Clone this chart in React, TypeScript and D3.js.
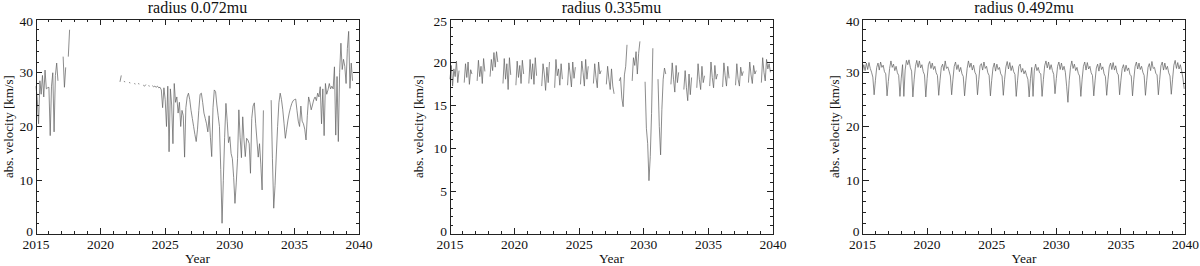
import React from 'react'
import * as d3 from 'd3'

// sampling grid of the time series (years), one sample every 0.1 year
const startYear = 2015
const endYear = 2040
const sampleYears = d3.range(250).map(i => startYear + i / 10)

const xTickYears = [2015, 2020, 2025, 2030, 2035, 2040]
const titles = ['radius 0.072mu', 'radius 0.335mu', 'radius 0.492mu']
const yMaxes = [40, 25, 40]
const yMajorSteps = [10, 5, 10]

// abs. velocity [km/s], radius 0.072mu (null = no data)
const velocityInner: (number | null)[] = [
  27.5, 25.0, 20.5, 28.5, 26.0, 29.5, 25.5, 30.5, 27.0, 27.2,
  27.3, 18.3, 27.5, 30.0, 19.0, 29.5, 31.8, 28.5, null, null,
  null, 33.0, 27.3, 31.0, null, 33.0, 38.0, null, null, null,
  null, null, null, null, null, null, null, null, null, null,
  null, null, null, null, null, null, null, null, null, null,
  null, null, null, null, null, null, null, null, null, null,
  null, null, null, null, null, 28.3, 29.5, null, 28.4, 28.3,
  null, null, 28.2, 28.1, null, null, 28.0, 27.9, null, 28.0,
  27.9, null, null, 27.7, 27.5, 27.8, null, 27.6, 27.5, null,
  27.6, 27.4, 27.5, 27.3, 27.5, 27.2, 27.3, 26.8, 23.5, 27.2,
  25.0, 20.0, 27.5, 15.3, 27.0, 24.0, 16.8, 28.0, 24.5, 25.5,
  22.5, 24.5, 20.0, 23.0, 22.0, 14.3, 23.5, 25.5, 26.2, 25.0,
  23.0, 21.5, 20.0, 18.5, 17.2, 19.5, 23.0, 26.0, 26.2, 24.5,
  22.5, 21.5, 20.5, 19.0, 22.0, 18.0, 14.4, 23.5, 26.8, 26.5,
  24.0, 22.0, 20.0, 12.0, 2.0, 10.0, 18.0, 24.3, 21.0, 17.0,
  18.1, 15.0, 14.0, 10.5, 5.7, 9.5, 14.0, 23.1, 18.0, 14.2,
  21.8, 17.5, 14.4, 17.8, 17.5, 16.8, 11.3, 21.5, 23.8, 24.4,
  20.6, 17.5, 14.3, 16.8, 13.0, 8.2, 23.0, null, null, null,
  null, null, 24.9, 14.0, 4.8, 9.0, 14.7, 20.0, 24.4, 26.2,
  25.0, 23.1, 20.5, 17.8, 19.5, 21.2, 22.5, 23.5, 24.3, 24.8,
  25.0, 25.1, 23.0, 21.0, 20.0, 23.8, 21.0, 20.5, 19.5, 17.5,
  22.0, 25.5, 24.5, 23.1, 24.0, 25.0, 25.5, 24.8, 26.2, 25.5,
  27.4, 20.5, 27.0, 18.3, 28.0, 26.0, 26.8, 28.0, 27.0, 27.5,
  27.0, 31.1, 18.4, 29.3, 17.2, 30.0, 35.5, 30.6, 32.5, 31.2,
  28.0, 34.5, 37.7, 27.1, 31.8, 28.5, null, null, null, null,
]

// abs. velocity [km/s], radius 0.335mu
const velocityMiddle: (number | null)[] = [
  18.0, 19.6, 17.2, 19.2, 18.3, 20.1, 17.6, 19.0, null, null,
  null, 17.6, 19.8, 18.2, 20.0, 17.4, 19.1, 18.6, null, null,
  null, 17.8, 20.2, 18.3, 19.5, 17.5, 20.4, 18.9, null, null,
  null, 18.3, 20.3, 19.0, 21.1, 19.4, 21.2, 20.0, null, null,
  null, 17.5, 20.4, 18.0, 19.8, 16.8, 20.5, 18.5, null, null,
  null, 17.3, 20.1, 18.2, 19.6, 17.5, 20.2, 18.6, null, null,
  null, 17.5, 20.3, 18.0, 19.8, 17.4, 20.5, 18.4, null, null,
  null, 17.2, 19.8, 18.6, 16.7, 19.4, 17.6, 20.0, null, null,
  null, 17.0, 20.3, 18.4, 19.2, 17.3, 19.8, 18.0, null, null,
  null, 17.3, 19.9, 18.6, 17.1, 20.0, 18.1, 19.4, null, null,
  null, 17.4, 20.1, 18.8, 17.2, 20.3, 18.0, 19.5, null, null,
  null, 17.5, 19.8, 18.2, 17.0, 20.0, 18.6, 19.0, null, null,
  null, 17.4, 19.5, 18.0, 16.8, 19.2, 17.2, 16.3, null, null,
  null, 17.8, 18.2, 15.8, 14.8, 18.5, 19.5, 22.0, null, null,
  null, 17.8, 20.5, 19.6, 21.2, 18.6, 21.0, 22.4, null, null,
  null, 17.7, 12.3, 10.5, 6.2, 9.0, 14.0, 21.6, null, null,
  null, 18.0, 12.5, 9.2, 14.5, 18.0, 19.3, 18.6, null, null,
  null, 17.4, 19.9, 18.0, 16.5, 19.6, 17.6, 18.8, null, null,
  null, 16.8, 19.0, 17.0, 15.5, 18.6, 16.2, 18.2, null, null,
  null, 17.0, 19.8, 18.0, 16.8, 19.5, 17.6, 18.4, null, null,
  null, 17.2, 20.0, 18.2, 17.0, 19.6, 18.0, 18.6, null, null,
  null, 17.1, 19.9, 18.4, 17.2, 19.5, 18.1, null, null, null,
  null, 17.3, 19.8, 18.0, 17.2, 19.4, 18.4, 18.9, null, null,
  null, 17.6, 20.0, 18.5, 17.5, 19.6, 18.6, 19.0, null, null,
  null, 17.6, 20.5, 18.8, 17.8, 20.3, 19.2, 19.8, 18.8, null,
]

// abs. velocity [km/s], radius 0.492mu
const velocityOuter: (number | null)[] = [
  30.2, 31.5, 30.4, 31.8, 30.6, 31.9, 30.8, 30.1, 29.2, 25.9,
  28.6, 31.0, 31.8, 30.5, 32.0, 31.0, 31.4, 30.2, 29.8, 25.7,
  28.4, 30.8, 32.2, 31.0, 31.6, 30.4, 31.2, 30.0, 29.5, 25.6,
  29.0, 31.5, 25.6, 30.5, 32.3, 31.5, 32.4, 31.0, 30.3, 25.5,
  28.8, 31.2, 32.3, 31.0, 32.2, 30.9, 31.5, 30.2, 29.6, 25.5,
  28.9, 31.5, 32.1, 30.8, 31.8, 30.6, 31.2, 30.0, 29.5, 25.8,
  28.6, 31.0, 31.6, 30.4, 32.2, 30.8, 31.1, 30.3, 29.4, 25.9,
  28.8, 31.2, 32.0, 30.6, 31.5, 30.2, 31.0, 29.8, 29.3, 25.7,
  28.5, 30.8, 32.2, 31.0, 31.8, 30.5, 31.4, 30.1, 29.6, 25.9,
  28.7, 31.3, 31.7, 30.5, 32.0, 30.8, 31.2, 30.0, 29.5, 25.7,
  28.6, 30.9, 31.8, 30.3, 31.6, 30.6, 31.0, 29.8, 29.4, 25.8,
  28.8, 31.1, 32.1, 30.7, 31.9, 30.4, 31.3, 30.2, 29.7, 25.6,
  28.5, 31.2, 31.6, 30.1, 30.8, 29.8, 30.4, 29.5, 28.8, 25.5,
  28.9, 31.0, 25.6, 30.5, 31.6, 30.4, 31.0, 30.0, 29.8, 25.6,
  28.7, 31.3, 32.2, 30.9, 32.0, 30.6, 31.5, 30.4, 29.7, 26.1,
  28.9, 31.2, 32.0, 30.6, 31.8, 30.5, 31.2, 30.1, 27.5, 24.5,
  28.6, 31.0, 32.2, 30.8, 31.6, 30.4, 31.0, 29.9, 29.4, 25.6,
  28.8, 31.2, 32.0, 30.5, 31.9, 30.7, 31.2, 30.0, 29.5, 25.7,
  28.5, 30.9, 31.6, 30.3, 31.8, 30.6, 31.1, 29.8, 29.3, 25.8,
  28.7, 31.1, 31.8, 30.6, 31.9, 30.5, 31.3, 30.0, 29.6, 25.9,
  28.6, 30.8, 31.5, 30.2, 31.4, 30.4, 30.9, 29.7, 29.4, 25.7,
  28.8, 31.2, 32.0, 30.7, 31.8, 30.6, 31.2, 30.1, 29.5, 25.8,
  28.6, 31.0, 31.7, 30.4, 32.1, 30.8, 31.0, 29.9, 29.6, 25.9,
  28.7, 31.3, 32.0, 30.5, 31.8, 30.6, 31.2, 30.0, 29.4, 26.0,
  28.8, 31.4, 32.3, 30.8, 31.9, 30.7, 31.5, 30.4, 29.0, 27.0,
]

const seriesList = [velocityInner, velocityMiddle, velocityOuter]

const W = 1200
const H = 266
const FONT = "'Liberation Serif', 'Times New Roman', serif"
const INK = '#222'
const LINE = '#666'

const panelLefts = [36, 450, 862.5]
const labelGaps = [23, 27, 24]
const plotTop = 19
const plotW = 323
const plotH = 215

function Panel({ idx }: { idx: number }) {
  const left = panelLefts[idx]
  const yMax = yMaxes[idx]
  const step = yMajorSteps[idx]
  const values = seriesList[idx]

  const x = d3.scaleLinear().domain([startYear, endYear]).range([left, left + plotW])
  const y = d3.scaleLinear().domain([0, yMax]).range([plotTop + plotH, plotTop])

  const line = d3.line<number | null>()
    .defined(d => d != null)
    .x((d, i) => x(sampleYears[i]))
    .y(d => y(d as number))

  const yMajor = d3.range(0, yMax + 0.001, step)
  const yMinor = d3.range(0, yMax + 0.001, step / 5)
  const xMinor = d3.range(startYear, endYear + 0.001, 1)
  const bottom = plotTop + plotH
  const right = left + plotW

  // IDL-style: end labels are pulled slightly inside the frame
  const yLabelPos = (v: number) => {
    if (v === 0) return y(v) - 3
    if (v === yMax) return y(v) + 2.5
    return y(v)
  }

  return (
    <g>
      <path d={line(values) || ''} fill="none" stroke={LINE} strokeWidth={0.75} strokeLinejoin="round" />

      <g stroke={INK} strokeWidth={1} shapeRendering="crispEdges">
        <rect x={left} y={plotTop} width={plotW} height={plotH} fill="none" />
        {xMinor.map(t => {
          const len = xTickYears.includes(t) ? 6 : 3
          return (
            <g key={'x' + t}>
              <line x1={x(t)} x2={x(t)} y1={bottom} y2={bottom - len} />
              <line x1={x(t)} x2={x(t)} y1={plotTop} y2={plotTop + len} />
            </g>
          )
        })}
        {yMinor.map(v => {
          const major = yMajor.some(m => Math.abs(m - v) < 1e-6)
          const len = major ? 6 : 3
          return (
            <g key={'y' + v}>
              <line x1={left} x2={left + len} y1={y(v)} y2={y(v)} />
              <line x1={right} x2={right - len} y1={y(v)} y2={y(v)} />
            </g>
          )
        })}
      </g>

      <g fontFamily={FONT} fill="#111">
        <text x={left + plotW / 2} y={13} textAnchor="middle" fontSize={16}>{titles[idx]}</text>
        {xTickYears.map(t => (
          <text key={t} x={x(t)} y={249} textAnchor="middle" fontSize={13.5}>{t}</text>
        ))}
        {yMajor.map(v => (
          <text key={v} x={left - 3} y={yLabelPos(v) + 4.5} textAnchor="end" fontSize={13.5}>{v}</text>
        ))}
        <text x={left + plotW / 2} y={263} textAnchor="middle" fontSize={13.5}>Year</text>
        <text
          transform={`translate(${left - labelGaps[idx]},${plotTop + plotH / 2}) rotate(-90)`}
          textAnchor="middle"
          fontSize={13}
        >
          abs. velocity [km/s]
        </text>
      </g>
    </g>
  )
}

export default function App() {
  return (
    <svg
      width={W}
      height={H}
      style={{ position: 'absolute', left: 0, top: 0, background: '#fff' }}
    >
      <rect width={W} height={H} fill="#fff" />
      {[0, 1, 2].map(i => <Panel key={i} idx={i} />)}
    </svg>
  )
}
